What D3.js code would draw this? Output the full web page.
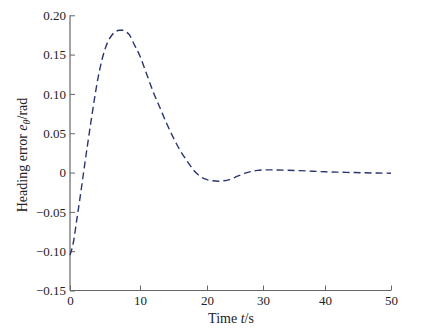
<!DOCTYPE html>
<html>
<head>
<meta charset="utf-8">
<script src="https://cdn.jsdelivr.net/npm/d3@7"></script>
<style>
  html, body { margin: 0; padding: 0; background: #fff; }
  svg { display: block; }
  text { font-family: "Liberation Serif", "DejaVu Serif", serif; fill: #222; }
</style>
</head>
<body>
<svg id="chart" width="425" height="333"></svg>
<script>
// Heading error response over time
const timeS = [0, 0.5, 1, 1.5, 2, 2.5, 3, 3.5, 4, 4.5, 5, 5.5, 6, 6.5, 7, 7.5, 8, 8.5, 9, 10, 11, 12, 13, 14, 15, 16, 17, 18, 19, 20, 21, 22, 23, 24, 25, 26, 27, 28, 29, 30, 31, 32, 34, 36, 38, 40, 42, 44, 46, 48, 50];
const headingErr = [-0.105, -0.088, -0.058, -0.028, 0.004, 0.035, 0.065, 0.094, 0.12, 0.141, 0.157, 0.168, 0.175, 0.179, 0.181, 0.181, 0.179, 0.175, 0.166, 0.148, 0.125, 0.102, 0.082, 0.062, 0.044, 0.028, 0.015, 0.003, -0.005, -0.009, -0.0105, -0.011, -0.0105, -0.009, -0.006, -0.003, -0.0005, 0.0015, 0.0028, 0.0033, 0.0034, 0.0033, 0.003, 0.0024, 0.0017, 0.001, 0.0005, 0.0001, -0.0003, -0.0006, -0.0008];
const xTicks = [0, 10, 20, 30, 40, 50];
const yTicks = [-0.15, -0.10, -0.05, 0, 0.05, 0.10, 0.15, 0.20];

const svg = d3.select("#chart");

const x = d3.scaleLinear()
  .domain([0, 10, 20, 30, 40, 50])
  .range([70, 140, 207, 263, 325, 391]);
const y = d3.scaleLinear()
  .domain([-0.15, 0.20])
  .range([290.5, 15.3]);

const fmtY = v => v === 0 ? "0" : d3.format(".2f")(v).replace("-", "\u2212");

// Y axis (ticks point inward)
const yAxis = svg.append("g")
  .attr("transform", `translate(${x(0)},0)`)
  .call(d3.axisLeft(y).tickValues(yTicks).tickFormat(fmtY).tickSize(-5).tickPadding(4));
// X axis
const xAxis = svg.append("g")
  .attr("transform", `translate(0,${y(-0.15)})`)
  .call(d3.axisBottom(x).tickValues(xTicks).tickFormat(d3.format("d")).tickSize(-5).tickPadding(3));

[yAxis, xAxis].forEach(g => {
  g.select(".domain").attr("stroke", "#666").attr("stroke-width", 1.2);
  g.selectAll(".tick line").attr("stroke", "#666").attr("stroke-width", 1);
  g.selectAll(".tick text")
    .attr("font-family", "Liberation Serif, serif")
    .attr("font-size", 13)
    .attr("fill", "#222");
});
// Plain axis lines without outer tick stubs
yAxis.select(".domain").attr("d", `M0,${y(0.20)}V${y(-0.15)}`);
xAxis.select(".domain").attr("d", `M${x(0)},0H${x(50)}`);
xAxis.selectAll(".tick text").attr("dy", "0.9em");

// Data line
const line = d3.line()
  .x((d, i) => x(timeS[i]))
  .y(d => y(d))
  .curve(d3.curveMonotoneX);

svg.append("path")
  .datum(headingErr)
  .attr("d", line)
  .attr("fill", "none")
  .attr("stroke", "#2a3570")
  .attr("stroke-width", 1.4)
  .attr("stroke-dasharray", "7,4");

// Axis titles
const xt = svg.append("text")
  .attr("x", 231).attr("y", 322.5)
  .attr("text-anchor", "middle")
  .attr("font-size", 14);
xt.append("tspan").text("Time ");
xt.append("tspan").attr("font-style", "italic").text("t");
xt.append("tspan").text("/s");

const yt = svg.append("text")
  .attr("transform", "translate(27,155) rotate(-90)")
  .attr("text-anchor", "middle")
  .attr("font-size", 14);
yt.append("tspan").text("Heading error ");
yt.append("tspan").attr("font-style", "italic").text("e");
yt.append("tspan").attr("font-style", "italic").attr("font-size", 10).attr("dy", 3).text("θ");
yt.append("tspan").attr("dy", -3).text("/rad");
</script>
</body>
</html>
